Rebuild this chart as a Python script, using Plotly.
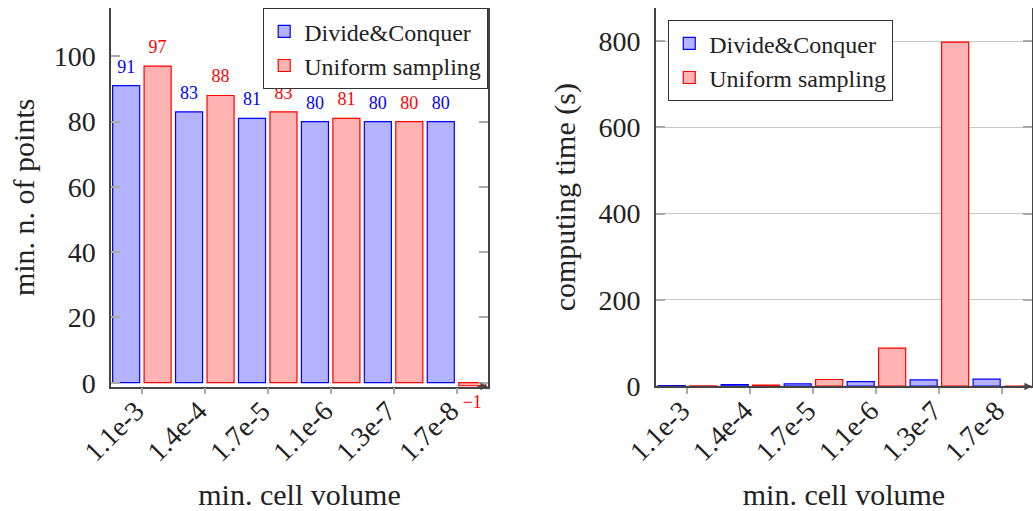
import plotly.graph_objects as go

# ---------------- data ----------------
categories = ["1.1e-3", "1.4e-4", "1.7e-5", "1.1e-6", "1.3e-7", "1.7e-8"]
series_names = ["Divide&Conquer", "Uniform sampling"]
dc_points = [91, 83, 81, 80, 80, 80]
us_points = [97, 88, 83, 81, 80, -1]
dc_time = [1, 3, 5, 10, 14, 16]
us_time = [0.5, 2, 15, 88, 798, 0]
points_ticks = [0, 20, 40, 60, 80, 100]
time_ticks = [0, 200, 400, 600, 800]

# ---------------- style ----------------
BLUE_LINE = "#0000ff"
BLUE_FILL = "rgb(179,179,255)"
RED_LINE = "#ff0000"
RED_FILL = "rgb(255,179,179)"
FONT = "'Liberation Serif', 'Times New Roman', Times, serif"
AXIS_COLOR = "#444444"
TICK_COLOR = "#aaaaaa"
TEXT_COLOR = "#222222"


def f(size, color=TEXT_COLOR):
    return dict(family=FONT, size=size, color=color)


def label(vals):
    return [str(v).replace("-", "\u2212") for v in vals]


def positions(vals):
    return ["top center" if v >= 0 else "bottom center" for v in vals]


fig = go.Figure()

# left panel: bars
fig.add_trace(go.Bar(
    x=categories, y=dc_points, name=series_names[0],
    marker=dict(color=BLUE_FILL, line=dict(color=BLUE_LINE, width=1.2)),
    cliponaxis=False, xaxis="x", yaxis="y", legend="legend"))
fig.add_trace(go.Bar(
    x=categories, y=us_points, name=series_names[1],
    marker=dict(color=RED_FILL, line=dict(color=RED_LINE, width=1.2)),
    cliponaxis=False, xaxis="x", yaxis="y", legend="legend"))

# left panel: value labels (grouped scatter text aligned with bars)
fig.add_trace(go.Scatter(
    x=categories, y=dc_points, mode="markers+text", text=label(dc_points),
    textposition=positions(dc_points), textfont=f(18, BLUE_LINE),
    marker=dict(size=12, opacity=0), showlegend=False, hoverinfo="skip",
    cliponaxis=False, xaxis="x", yaxis="y"))
fig.add_trace(go.Scatter(
    x=categories, y=us_points, mode="markers+text", text=label(us_points),
    textposition=positions(us_points), textfont=f(18, RED_LINE),
    marker=dict(size=12, opacity=0), showlegend=False, hoverinfo="skip",
    cliponaxis=False, xaxis="x", yaxis="y"))

# right panel: bars
fig.add_trace(go.Bar(
    x=categories, y=dc_time, name=series_names[0],
    marker=dict(color=BLUE_FILL, line=dict(color=BLUE_LINE, width=1.2)),
    cliponaxis=False, xaxis="x2", yaxis="y2", legend="legend2"))
fig.add_trace(go.Bar(
    x=categories, y=us_time, name=series_names[1],
    marker=dict(color=RED_FILL, line=dict(color=RED_LINE, width=1.2)),
    cliponaxis=False, xaxis="x2", yaxis="y2", legend="legend2"))

xcommon = dict(
    type="category", showline=True, linecolor=AXIS_COLOR, linewidth=1.5,
    ticks="outside", ticklen=6, tickcolor=TICK_COLOR, tickwidth=1.5,
    tickangle=-45, showgrid=False, zeroline=False, automargin=False,
    ticklabelstandoff=-11, ticklabelshift=-6,
    tickfont=f(28),
    title=dict(text="min. cell volume", font=f(30), standoff=29),
)
ycommon = dict(
    showline=True, linecolor=AXIS_COLOR, linewidth=1.5, mirror="ticks",
    ticks="inside", ticklen=9, tickcolor=TICK_COLOR, tickwidth=1.5,
    zeroline=False, ticklabelstandoff=8, automargin=False,
    tickfont=f(28),
)

fig.update_layout(
    template="none",
    width=1033, height=511,
    margin=dict(l=0, r=0, t=0, b=0),
    paper_bgcolor="white", plot_bgcolor="white",
    barmode="group", bargap=0, bargroupgap=0.14,
    scattermode="group", scattergap=0,
    font=f(24),
    xaxis=dict(domain=[0.1075, 0.4724], anchor="y", range=[-0.49, 5.5], **xcommon),
    yaxis=dict(domain=[0.2434, 0.9843], anchor="x", range=[-1.2, 114.8],
               tickvals=points_ticks, showgrid=False,
               title=dict(text="min. n. of points", font=f(30), standoff=10),
               **ycommon),
    xaxis2=dict(domain=[0.635, 0.999], anchor="y2", range=[-0.5, 5.47], **xcommon),
    yaxis2=dict(domain=[0.2438, 0.9843], anchor="x2", range=[-1, 877],
                tickvals=time_ticks, showgrid=True, gridcolor="#c8c8c8", gridwidth=1,
                title=dict(text="computing time (s)", font=f(30), standoff=14),
                **ycommon),
    legend=dict(x=0.4724, y=0.9843, xanchor="right", yanchor="top",
                bordercolor="#333333", borderwidth=1.2, bgcolor="white",
                font=f(24), tracegroupgap=0),
    legend2=dict(x=0.6467, y=0.9609, xanchor="left", yanchor="top",
                 bordercolor="#333333", borderwidth=1.2, bgcolor="white",
                 font=f(24), tracegroupgap=0),
    annotations=[
        dict(xref="x domain", yref="y domain", x=1, y=0, ax=-12, ay=0, axref="pixel", ayref="pixel",
             showarrow=True, arrowhead=2, arrowsize=1, arrowwidth=1.5, arrowcolor=AXIS_COLOR, text=""),
        dict(xref="x2 domain", yref="y2 domain", x=1, y=0, ax=-12, ay=0, axref="pixel", ayref="pixel",
             showarrow=True, arrowhead=2, arrowsize=1, arrowwidth=1.5, arrowcolor=AXIS_COLOR, text=""),
    ],
)

fig.write_html("out.html")
